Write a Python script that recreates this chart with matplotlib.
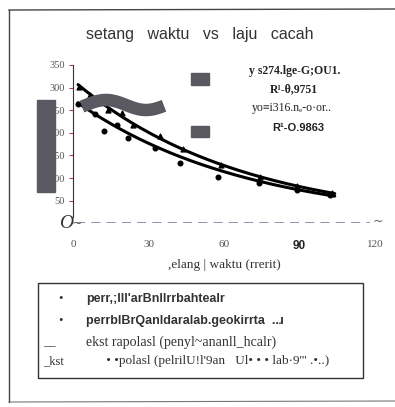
import numpy as np
import matplotlib
matplotlib.use("Agg")
import matplotlib.pyplot as plt
from matplotlib.patches import Rectangle
from matplotlib.lines import Line2D

# readings
upper_x = [2.4, 6.8, 13.9, 19.3, 24.0, 34.6, 43.8, 59.0, 74.3, 89.0, 103.0]
upper_y = [302, 284, 251, 243, 218, 194, 164, 129, 103, 83, 66]
lower_x = [2.1, 8.7, 12.4, 17.4, 22.0, 32.6, 42.5, 57.7, 74.0, 89.0, 102.0]
lower_y = [263, 241, 203, 217, 188, 167, 134, 102, 90, 74, 62]

# trendline coefficients (y = a * exp(-k x))
fit_lower = (274.1, 0.0146)
fit_upper = (316.1, 0.0151)
fit_range = (2, 104)

xticks = [0, 30, 60, 90, 120]
yticks = [50, 100, 150, 200, 250, 300, 350]

W, H = 395, 407
fig = plt.figure(figsize=(W / 100, H / 100), dpi=100)


def fx(x):
    return x / W


def fy(y):
    return 1 - y / H


ax = fig.add_axes([fx(73), fy(223.3), fx(375) - fx(73), fy(65) - fy(223.3)])
ax.set_xlim(0, 120)
ax.set_ylim(0, 350)

xs = np.linspace(*fit_range, 200)
for a, k in (fit_lower, fit_upper):
    ax.plot(xs, a * np.exp(-k * xs), color='black', lw=2.2, solid_capstyle='round', zorder=3)
ax.scatter(lower_x, lower_y, s=11, marker='o', color='black', zorder=4)
ax.scatter(upper_x, upper_y, s=12, marker='^', color='black', zorder=4)

ax.axhline(0, color='#7a7090', lw=1.1, ls=(0, (6, 4)), xmin=0.01, xmax=0.985)

for s in ('top', 'right', 'bottom'):
    ax.spines[s].set_visible(False)
ax.spines['left'].set_bounds(15, 350)
ax.spines['left'].set_color('#333333')
ax.set_yticks(yticks)
ax.set_yticklabels([str(v) for v in yticks], family='Liberation Serif', fontsize=7.5, color='#555555')
ax.tick_params(axis='y', direction='out', length=3, color='#aa4444', pad=3)
ax.set_xticks(xticks)
ax.set_xticklabels([str(v) for v in xticks], family='Liberation Serif', fontsize=8, color='#555555')
ax.tick_params(axis='x', length=0, pad=12)
for lab in ax.get_xticklabels():
    if lab.get_text() == '90':
        lab.set_family('Liberation Sans')
        lab.set_fontweight('bold')
        lab.set_color('#222222')
        lab.set_fontsize(8.5)

ax.set_xlabel(',elang | waktu (rrerit)', family='Liberation Serif', fontsize=9.5,
              color='#333333', labelpad=5)
ax.patch.set_alpha(0)

# title
fig.text(fx(200), fy(34), 'setang   waktu   vs   laju   cacah', ha='center', va='center',
         family='Liberation Sans', fontsize=11.5, color='#333333')

# equation boxes
eq = [('y s274.lge-G;OU1.', 295, 71, 'Liberation Serif', 'bold', 8.5),
      ('R\u00b9-\u03b8,9751', 294, 89, 'Liberation Serif', 'bold', 8.5),
      ('yo\u2261i316.n\u2091-o\u00b7or..', 292, 108, 'Liberation Serif', 'normal', 8.5),
      ('R\u00b9-O.9863', 298, 128, 'Liberation Sans', 'bold', 8)]
for t, x, y, fam, wt, fs in eq:
    fig.text(fx(x), fy(y), t, ha='center', va='center', family=fam,
             fontweight=wt, fontsize=fs, color='#222222')

# zero marks
fig.text(fx(66), fy(224), 'O', ha='center', va='center', family='Liberation Serif',
         style='italic', fontsize=14, color='#333333')
fig.text(fx(77), fy(223), '~', ha='center', va='center', fontsize=9, color='#555555')
fig.text(fx(378), fy(221), '~', ha='center', va='center', fontsize=9, color='#555555')

# scan artefacts
gray = '#5a5860'
for x0, y0, x1, y1 in [(37, 100, 55, 192), (191, 73, 209, 85), (191, 126, 209, 137)]:
    fig.patches.append(Rectangle((fx(x0), fy(y1)), fx(x1) - fx(x0), fy(y0) - fy(y1),
                                 transform=fig.transFigure, color=gray, zorder=5))
tx = np.linspace(82, 164, 80)
ty = 105 - 5 * np.sin(2 * np.pi * (tx - 86) / 80)
fig.lines.append(Line2D(fx(tx), fy(ty), transform=fig.transFigure, color=gray,
                        lw=9, solid_capstyle='butt', zorder=5))

# outer frame
fig.lines.append(Line2D([fx(9), fx(9)], [fy(402), fy(10)], transform=fig.transFigure,
                        color='#444444', lw=1.0))
fig.lines.append(Line2D([fx(9), fx(395)], [fy(10), fy(9)], transform=fig.transFigure,
                        color='#444444', lw=1.0))
fig.lines.append(Line2D([fx(9), fx(395)], [fy(402), fy(401)], transform=fig.transFigure,
                        color='#777777', lw=0.8))

# legend box
fig.patches.append(Rectangle((fx(38), fy(378)), fx(363) - fx(38), fy(283) - fy(378),
                             transform=fig.transFigure, fill=False, ec='#333333', lw=1.0))
rows = [('\u2022', "perr,;lll'arBnllrrbahtealr", 299, 'Liberation Sans', 'bold', 9),
        ('\u2022', 'perrblBrQanldaralab.geokirrta  ..\u0279', 321, 'Liberation Sans', 'bold', 9),
        ('__', 'ekst rapolasl (penyl~ananll_hcalr)', 342, 'Liberation Serif', 'normal', 10),
        ('_kst', "      \u2022 \u2022polasl (pelrilU!l'9an   Ul\u2022 \u2022 \u2022 lab\u00b79''' .\u2022..)", 361,
         'Liberation Serif', 'normal', 9.5)]
for sym, txt, y, fam, wt, fs in rows:
    sx = 61 if sym == '\u2022' else 43
    fig.text(fx(sx), fy(y), sym, ha='center' if sym == '\u2022' else 'left', va='center',
             family='Liberation Serif', fontsize=9, color='#333333')
    fig.text(fx(86), fy(y), txt, ha='left', va='center', family=fam, fontweight=wt,
             fontsize=fs, color='#333333')

fig.savefig('out.png', dpi=100)
